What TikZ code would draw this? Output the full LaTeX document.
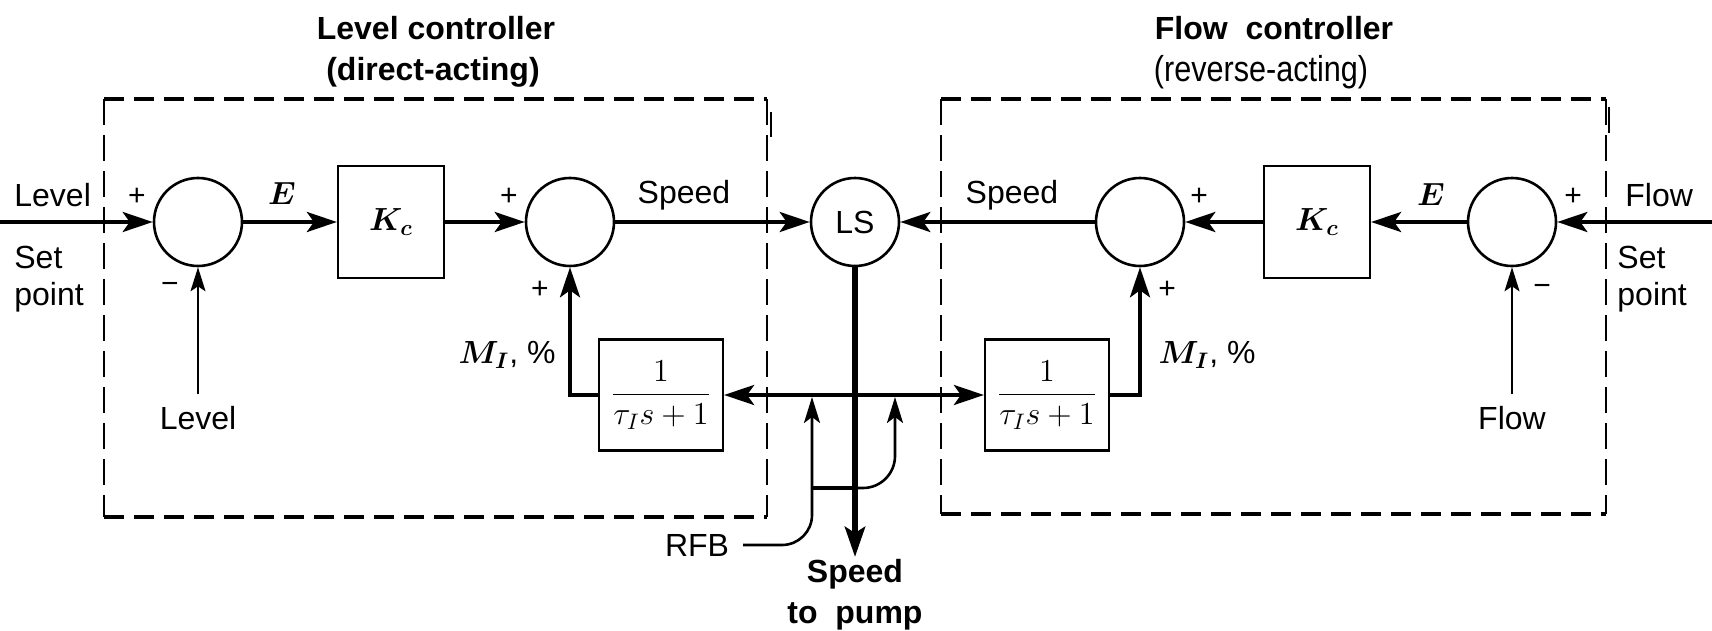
\RequirePackage{fix-cm}
\documentclass[tikz,border=0pt]{standalone}
\usepackage{amsmath,bm}
\usepackage{graphicx}
\usepackage[no-math]{fontspec}
\setmainfont{Liberation Sans}
\usetikzlibrary{arrows.meta}
\begin{document}
\begin{tikzpicture}[x=0.5pt,y=-0.5pt,
  font=\fontsize{16}{19}\selectfont,
  sumc/.style={circle,draw,line width=1.3pt,minimum size=44pt,inner sep=0pt},
  blk/.style={draw,line width=1.1pt,minimum width=53pt,minimum height=56pt,inner sep=0pt},
  fblk/.style={draw,line width=1.1pt,minimum width=62pt,minimum height=55.5pt,inner sep=0pt},
  sig/.style={line width=1.9pt,-{Stealth[length=15pt,width=10pt,inset=3.5pt]}},
  thinsig/.style={line width=1pt,-{Stealth[length=12pt,width=7.5pt,inset=2.5pt]}},
  lbl/.style={inner sep=0pt},
  sign/.style={inner sep=0pt,font=\fontsize{15}{17}\selectfont},
  ttl/.style={inner sep=0pt,font=\bfseries\fontsize{16}{19}\selectfont},
  hdash/.style={line width=1.7pt,dash pattern=on 10pt off 5pt},
  vdash/.style={line width=1pt,dash pattern=on 13pt off 5pt},
]
\fill[white] (0,0) rectangle (1712,631);
\useasboundingbox (0,0) rectangle (1712,631);

% titles
\node[ttl] (t1) at (436,28) {Level controller};
\node[ttl] (t2) at (433,72) {(direct-acting)};
\node[ttl] (t3) at (1274,28) {Flow\ \ controller};
\node[lbl] (t4) at (1261,72) {\scalebox{0.85}[1]{\fontsize{18}{20}\selectfont(reverse-acting)}};

% dashed boxes
\draw[hdash] (104,99) -- (767,99);
\draw[hdash] (104,517) -- (767,517);
\draw[vdash] (104,99) -- (104,517);
\draw[vdash] (767,99) -- (767,517);
\draw[line width=1pt] (771,112) -- (771,137);
\draw[hdash] (941,99) -- (1606,99);
\draw[hdash] (941,514) -- (1606,514);
\draw[vdash] (941,99) -- (941,514);
\draw[vdash] (1606,99) -- (1606,514);
\draw[line width=1pt] (1609,107) -- (1609,133);

% blocks
\node[sumc] (s1) at (198,222) {};
\node[blk] (k1) at (391,222) {$\bm{K_c}$};
\node[sumc] (s2) at (570,222) {};
\node[sumc] (ls) at (855,222) {LS};
\node[sumc] (s3) at (1140,222) {};
\node[blk] (k2) at (1317,222) {$\bm{K_c}$};
\node[sumc] (s4) at (1512,222) {};
\node[fblk] (f1) at (661,395) {$\dfrac{1}{\tau_I s+1}$};
\node[fblk] (f2) at (1047,395) {$\dfrac{1}{\tau_I s+1}$};

% side texts
\node[lbl,anchor=west] (lvin) at (14,195) {Level};
\node[lbl,anchor=west] (set1) at (14,257) {Set};
\node[lbl,anchor=west] (pt1) at (14,297) {point};
\node[lbl,anchor=west] (flin) at (1625,195) {Flow};
\node[lbl,anchor=west] (set2) at (1617,257) {Set};
\node[lbl,anchor=west] (pt2) at (1617,297) {point};

\coordinate (lin) at (0,222);
\coordinate (fin) at (1712,222);

% main signal path
\draw[sig] (lin) -- (s1.west);
\draw[sig] (s1.east) -- (k1.west);
\draw[sig] (k1.east) -- (s2.west);
\draw[sig] (s2.east) -- (ls.west);
\draw[sig] (fin) -- (s4.east);
\draw[sig] (s4.west) -- (k2.east);
\draw[sig] (k2.west) -- (s3.east);
\draw[sig] (s3.west) -- (ls.east);

% measurements
\node[lbl,outer ysep=6pt] (lv) at (198,418) {Level};
\node[lbl,outer ysep=6pt] (fl) at (1512,418) {Flow};
\draw[thinsig] (lv.north) -- (s1.south);
\draw[thinsig] (fl.north) -- (s4.south);

% reset feedback
\coordinate (j) at (855,395);
\draw[sig] (j) -- (f1.east);
\draw[sig] (j) -- (f2.west);
\draw[sig] (f1.west) -| (s2.south);
\draw[sig] (f2.east) -| (s3.south);

% speed to pump
\node[lbl,anchor=north,align=center,font=\bfseries\fontsize{16}{20.5}\selectfont,outer ysep=1pt] (sp) at (855,557) {Speed\\to\ \ pump};
\draw[line width=3pt,-{Stealth[length=15pt,width=10pt,inset=3pt]}] (ls.south) -- (sp.north);

% RFB
\node[lbl,outer xsep=7pt] (rfb) at (697,545) {RFB};
\coordinate (r1) at (812,397);
\coordinate (r2) at (895,397);
\coordinate (b0) at (812,488);
\draw[line width=1.3pt,-{Stealth[length=13pt,width=8pt,inset=3pt]},rounded corners=15pt] (rfb.east) -| (r1);
\draw[line width=1.3pt,-{Stealth[length=13pt,width=8pt,inset=3pt]},rounded corners=16pt] (b0) -| (r2);
\draw[line width=2.2pt] (b0) -- (855,488);

% labels
\node[lbl] (e1) at (282,194) {$\bm{E}$};
\node[lbl] (e2) at (1431,195) {$\bm{E}$};
\node[lbl] (sp1) at (684,195) {Speed};
\node[lbl] (sp2) at (1012,195) {Speed};
\node[lbl] (m1) at (507,355) {$\bm{M_I}$, \%};
\node[lbl] (m2) at (1207,355) {$\bm{M_I}$, \%};

% signs
\node[sign] (p1) at (137,197) {+};
\node[sign] (n1) at (170,288) {−};
\node[sign] (p2) at (509,197) {+};
\node[sign] (p3) at (540,290) {+};
\node[sign] (p4) at (1199,197) {+};
\node[sign] (p5) at (1167,290) {+};
\node[sign] (p6) at (1573,197) {+};
\node[sign] (n2) at (1542,290) {−};
\end{tikzpicture}
\end{document}
